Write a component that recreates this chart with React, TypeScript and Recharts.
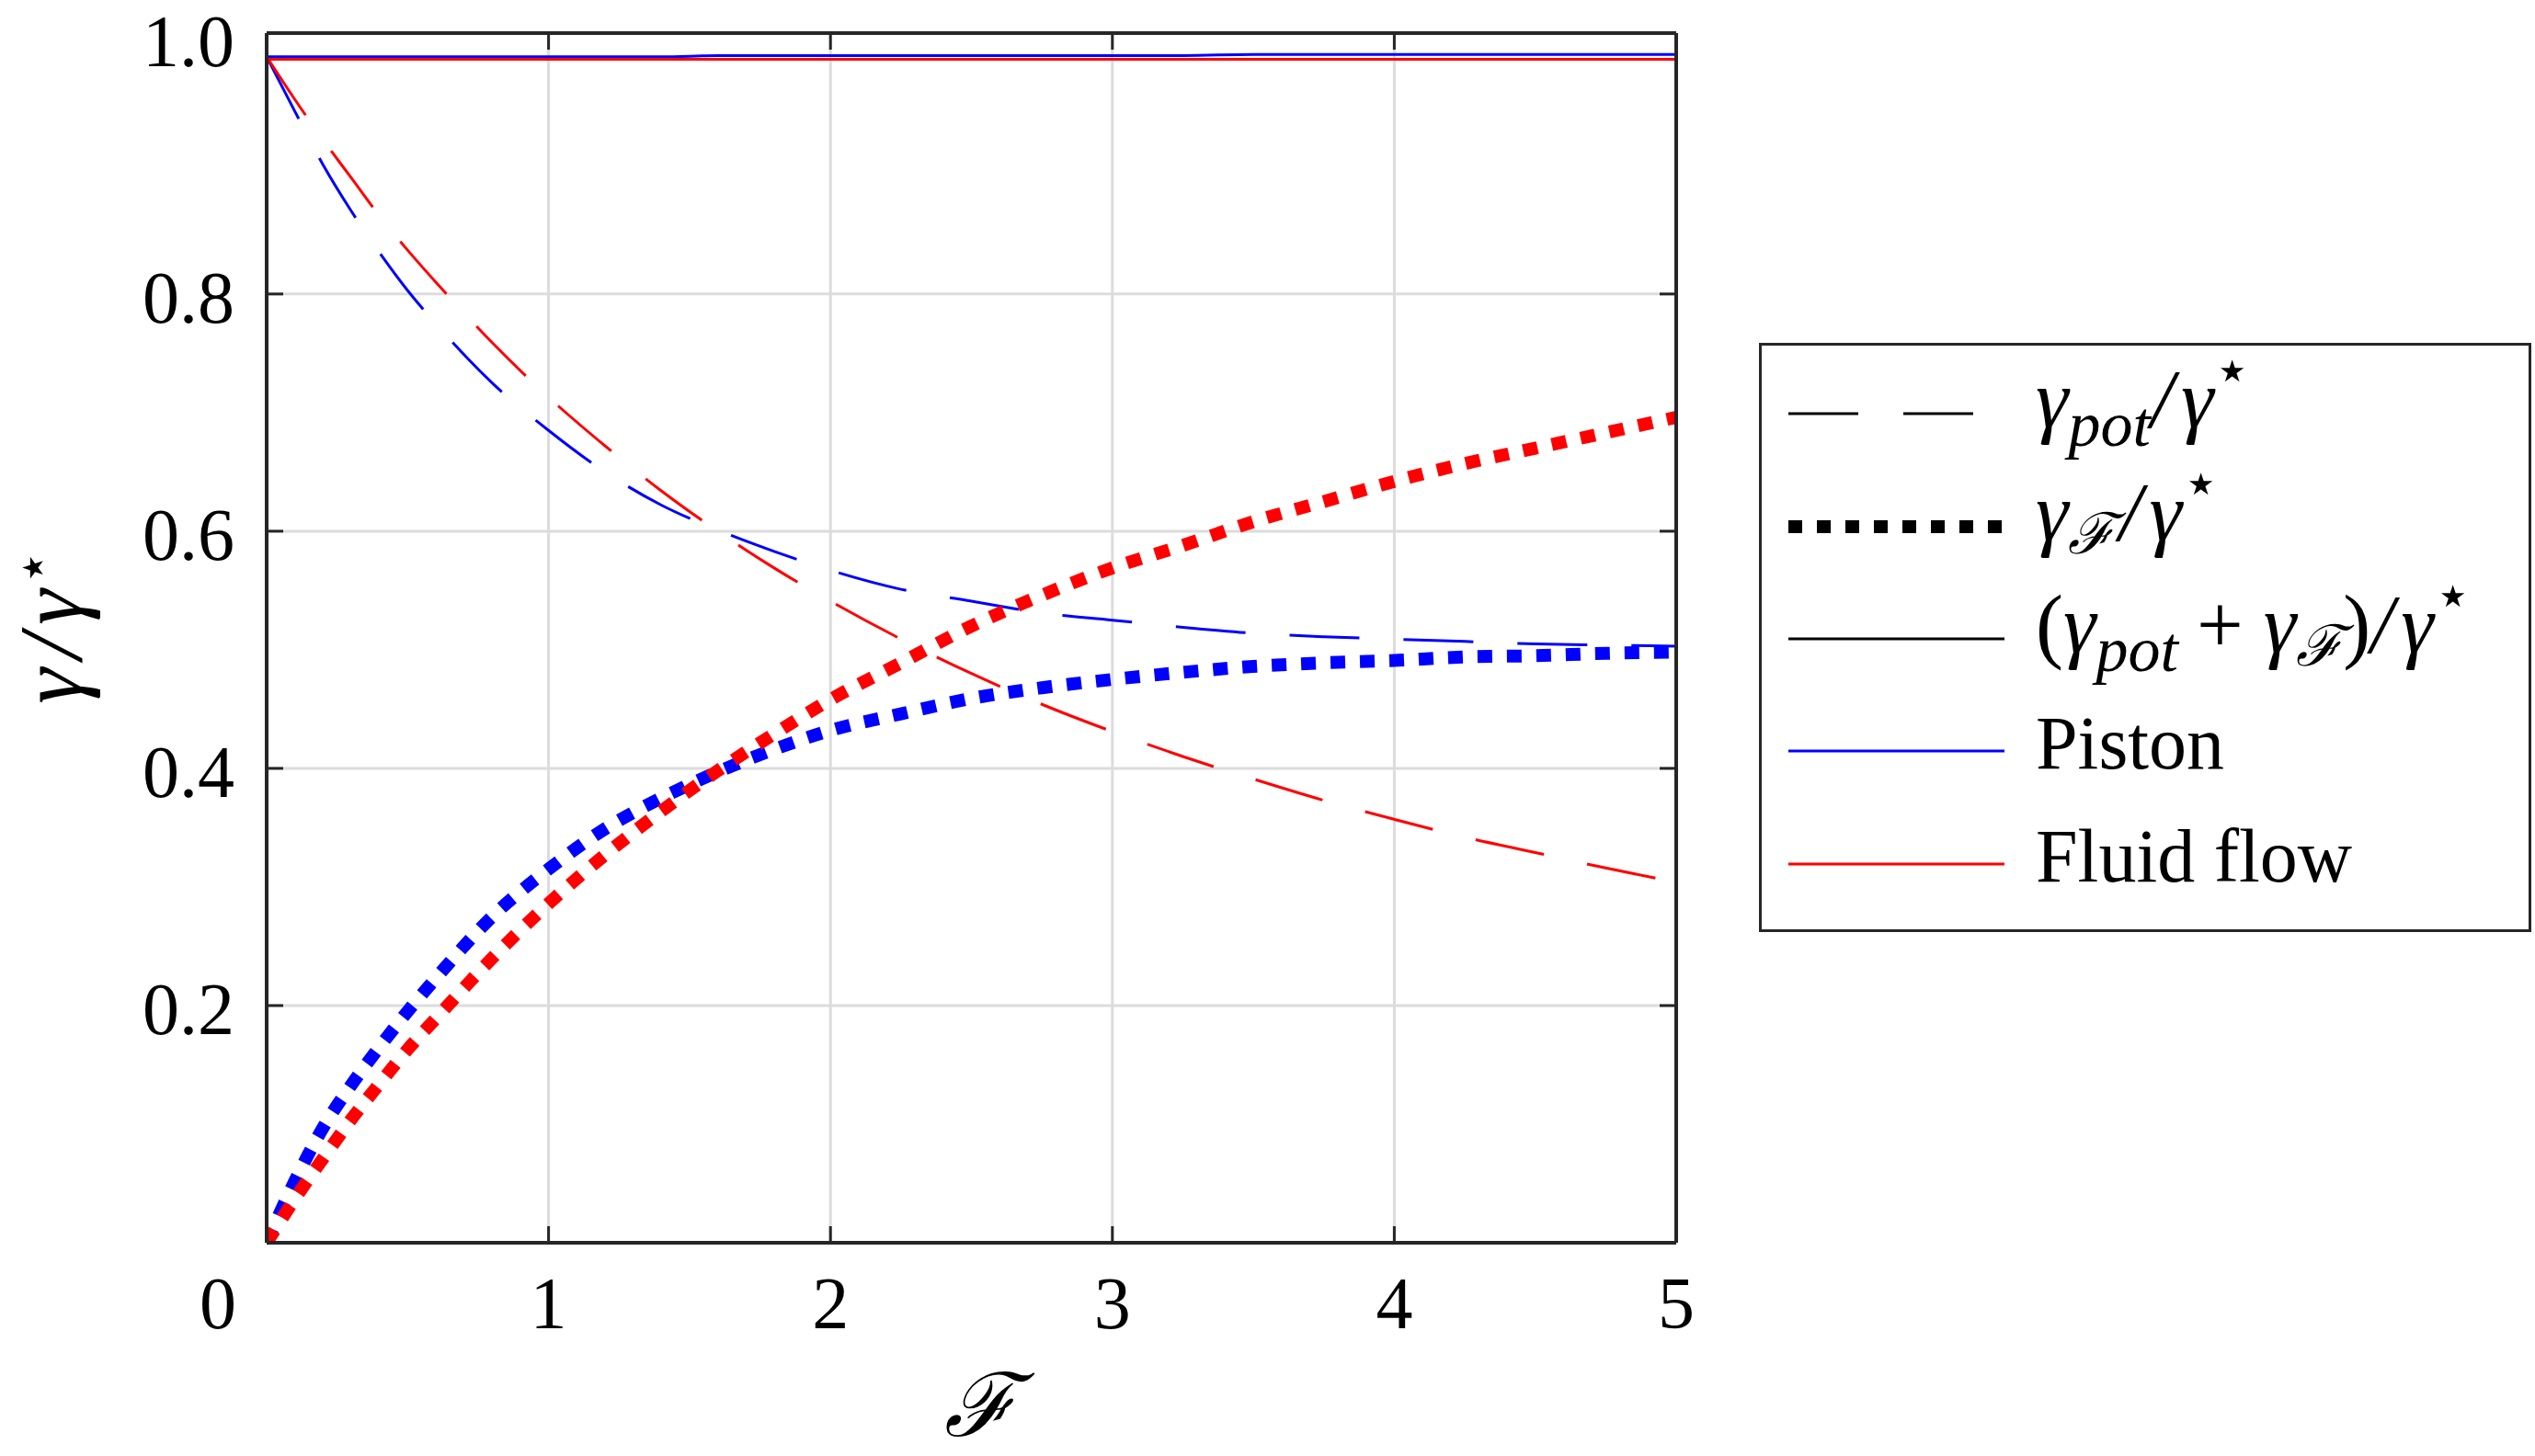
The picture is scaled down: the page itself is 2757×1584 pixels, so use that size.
import { LineChart, Line, XAxis, YAxis, CartesianGrid } from 'recharts';

const SERIF = '"Liberation Serif", "Times New Roman", serif';
const AXIS = '#262626';
const GRID = '#dcdcdc';
const BLUE = '#0000ff';
const RED = '#ff0000';

// forcing parameter F (x axis)
const fValues = [0, 0.1, 0.2, 0.3, 0.4, 0.5, 0.6, 0.8, 1.0, 1.2, 1.4, 1.6, 1.8, 2.0, 2.25, 2.5, 2.75, 3.0, 3.25, 3.5, 3.75, 4.0, 4.25, 4.5, 4.75, 5.0];

// gamma_pot / gamma*
const pistonPot = [1.0, 0.954, 0.909, 0.870, 0.835, 0.803, 0.775, 0.725, 0.685, 0.650, 0.622, 0.601, 0.583, 0.567, 0.551, 0.541, 0.531, 0.525, 0.519, 0.514, 0.511, 0.509, 0.507, 0.505, 0.504, 0.503];
const fluidPot = [1.0, 0.964, 0.930, 0.898, 0.866, 0.837, 0.810, 0.759, 0.713, 0.672, 0.634, 0.600, 0.569, 0.541, 0.509, 0.480, 0.454, 0.431, 0.410, 0.391, 0.373, 0.357, 0.342, 0.329, 0.316, 0.304];

// gamma_F / gamma*
const pistonF = [0, 0.052, 0.097, 0.133, 0.165, 0.195, 0.223, 0.275, 0.315, 0.349, 0.375, 0.397, 0.416, 0.432, 0.446, 0.459, 0.468, 0.475, 0.481, 0.486, 0.489, 0.491, 0.494, 0.495, 0.497, 0.498];
const fluidF = [0, 0.037, 0.071, 0.104, 0.134, 0.163, 0.189, 0.240, 0.286, 0.327, 0.364, 0.398, 0.429, 0.458, 0.489, 0.520, 0.546, 0.569, 0.588, 0.608, 0.625, 0.642, 0.657, 0.670, 0.683, 0.696];

// (gamma_pot + gamma_F) / gamma*
const pistonTotal = [1.0, 1.0, 1.0, 1.0, 1.0, 1.0, 1.0, 1.0, 1.0, 1.0, 1.0, 1.001, 1.001, 1.001, 1.001, 1.001, 1.001, 1.001, 1.001, 1.002, 1.002, 1.002, 1.002, 1.002, 1.002, 1.002];
const fluidTotal = [0.998, 0.998, 0.998, 0.998, 0.998, 0.998, 0.998, 0.998, 0.998, 0.998, 0.998, 0.998, 0.998, 0.998, 0.998, 0.998, 0.998, 0.998, 0.998, 0.998, 0.998, 0.998, 0.998, 0.998, 0.998, 0.998];

const xTicks = [0, 1, 2, 3, 4, 5];
const yTicks = [0.2, 0.4, 0.6, 0.8, 1.02];

const chartData = fValues.map((f, i) => ({
  f,
  pistonPot: pistonPot[i],
  fluidPot: fluidPot[i],
  pistonF: pistonF[i],
  fluidF: fluidF[i],
  pistonTotal: pistonTotal[i],
  fluidTotal: fluidTotal[i],
}));

const DASH = '76 48';
const DOTS = '16 16';

function XTick({ x, y, payload }: any) {
  const shift = payload.value === 0 ? -53 : 0;
  return (
    <text x={x + shift} y={y + 93} textAnchor="middle" fontSize={80} fontFamily={SERIF} fill="#000">
      {payload.value}
    </text>
  );
}

function YTick({ x, y, payload }: any) {
  const top = payload.value > 1;
  const label = top ? '1.0' : Number(payload.value).toFixed(1);
  return (
    <text x={x - 35} y={y + (top ? 36 : 31)} textAnchor="end" fontSize={80} fontFamily={SERIF} fill="#000">
      {label}
    </text>
  );
}

function NoTick() {
  return <g />;
}

const tickLineStyle = { stroke: AXIS, strokeWidth: 3 };
const axisLineStyle = { stroke: AXIS, strokeWidth: 4 };

function Legend() {
  // svg has 40px of padding above the box so the raised stars are not clipped
  const pad = 40;
  const rows = [77, 200, 322, 444, 567].map((r) => r + pad);
  const tx = 301;
  const base = (r: number) => r + 19;
  return (
    <svg
      width={840}
      height={641 + pad}
      style={{ position: 'absolute', left: 1913, top: 373 - pad }}
      fontFamily={SERIF}
    >
      <rect x={1.5} y={pad + 1.5} width={837} height={638} fill="#fff" stroke={AXIS} strokeWidth={3} />
      <line x1={32} x2={234} y1={rows[0]} y2={rows[0]} stroke="#000" strokeWidth={3} strokeDasharray="76 49" />
      <line x1={32} x2={267} y1={rows[1]} y2={rows[1]} stroke="#000" strokeWidth={14} strokeDasharray="15 16" />
      <line x1={32} x2={267} y1={rows[2]} y2={rows[2]} stroke="#000" strokeWidth={3} />
      <line x1={32} x2={267} y1={rows[3]} y2={rows[3]} stroke={BLUE} strokeWidth={3} />
      <line x1={32} x2={267} y1={rows[4]} y2={rows[4]} stroke={RED} strokeWidth={3} />

      <text x={tx} y={base(rows[0]) - 4} fontSize={90} fill="#000">
        <tspan fontStyle="italic">γ</tspan>
        <tspan fontStyle="italic" fontSize={70} dy={20}>pot</tspan>
        <tspan fontStyle="italic" dy={-20}>/</tspan>
        <tspan fontStyle="italic" dx={8}>γ</tspan>
        <tspan fontSize={66} dy={-40}>⋆</tspan>
      </text>
      <text x={tx} y={base(rows[1]) - 4} fontSize={90} fill="#000">
        <tspan fontStyle="italic">γ</tspan>
        <tspan fontStyle="italic" fontSize={62} dy={14}>ℱ</tspan>
        <tspan fontStyle="italic" dy={-14} dx={4}>/</tspan>
        <tspan fontStyle="italic" dx={8}>γ</tspan>
        <tspan fontSize={66} dy={-40}>⋆</tspan>
      </text>
      <text x={tx} y={base(rows[2]) - 4} fontSize={90} fill="#000">
        <tspan>(</tspan>
        <tspan fontStyle="italic">γ</tspan>
        <tspan fontStyle="italic" fontSize={70} dy={20}>pot</tspan>
        <tspan dy={-20} dx={20}>+</tspan>
        <tspan fontStyle="italic" dx={22}>γ</tspan>
        <tspan fontStyle="italic" fontSize={62} dy={14}>ℱ</tspan>
        <tspan dy={-14}>)</tspan>
        <tspan fontStyle="italic">/</tspan>
        <tspan fontStyle="italic" dx={8}>γ</tspan>
        <tspan fontSize={66} dy={-40}>⋆</tspan>
      </text>
      <text x={tx} y={base(rows[3])} fontSize={82} fill="#000">Piston</text>
      <text x={tx} y={base(rows[4])} fontSize={82} fill="#000">Fluid flow</text>
    </svg>
  );
}

function AxisTitles() {
  return (
    <svg
      width={2757}
      height={1584}
      style={{ position: 'absolute', left: 0, top: 0, pointerEvents: 'none' }}
      fontFamily={SERIF}
    >
      <text x={1066} y={1562} textAnchor="middle" fontSize={96} fontStyle="italic" fill="#000">ℱ</text>
      <text transform="translate(88, 682) rotate(-90)" textAnchor="middle" fontSize={98} fill="#000">
        <tspan fontStyle="italic">γ</tspan>
        <tspan fontStyle="italic" dx={10}>/</tspan>
        <tspan fontStyle="italic" dx={10}>γ</tspan>
        <tspan fontSize={62} dy={-32} dx={4}>⋆</tspan>
      </text>
    </svg>
  );
}

export default function App() {
  return (
    <div style={{ position: 'absolute', left: 0, top: 0, width: 2757, height: 1584, background: '#fff' }}>
      <LineChart width={1900} height={1584} data={chartData} margin={{ top: 36, right: 77, bottom: 0, left: 0 }}>
        <XAxis
          xAxisId="b"
          dataKey="f"
          type="number"
          domain={[0, 5]}
          ticks={xTicks}
          allowDataOverflow
          height={232}
          tick={<XTick />}
          tickLine={false}
          tickSize={0}
          tickMargin={0}
          axisLine={axisLineStyle}
        />
        <XAxis
          xAxisId="bm"
          dataKey="f"
          type="number"
          domain={[0, 5]}
          ticks={xTicks}
          allowDataOverflow
          mirror
          height={1}
          tick={<NoTick />}
          tickSize={18}
          tickLine={tickLineStyle}
          axisLine={false}
        />
        <XAxis
          xAxisId="t"
          orientation="top"
          dataKey="f"
          type="number"
          domain={[0, 5]}
          ticks={xTicks}
          allowDataOverflow
          mirror
          height={1}
          tick={<NoTick />}
          tickSize={18}
          tickLine={tickLineStyle}
          axisLine={axisLineStyle}
        />
        <YAxis
          yAxisId="l"
          type="number"
          domain={[0, 1.02]}
          ticks={yTicks}
          allowDataOverflow
          width={290}
          tick={<YTick />}
          tickLine={false}
          tickSize={0}
          tickMargin={0}
          axisLine={axisLineStyle}
        />
        <YAxis
          yAxisId="lm"
          type="number"
          domain={[0, 1.02]}
          ticks={yTicks}
          allowDataOverflow
          mirror
          width={1}
          tick={<NoTick />}
          tickSize={18}
          tickLine={tickLineStyle}
          axisLine={false}
        />
        <YAxis
          yAxisId="r"
          orientation="right"
          type="number"
          domain={[0, 1.02]}
          ticks={yTicks}
          allowDataOverflow
          mirror
          width={1}
          tick={<NoTick />}
          tickSize={18}
          tickLine={tickLineStyle}
          axisLine={axisLineStyle}
        />

        <CartesianGrid xAxisId="b" yAxisId="l" stroke={GRID} strokeWidth={3} />

        {/* piston */}
        <Line xAxisId="b" yAxisId="l" type="monotone" dataKey="pistonPot" stroke={BLUE} strokeWidth={3} strokeDasharray={DASH} dot={false} isAnimationActive={false} />
        <Line xAxisId="b" yAxisId="l" type="monotone" dataKey="pistonF" stroke={BLUE} strokeWidth={14} strokeDasharray={DOTS} dot={false} isAnimationActive={false} />
        <Line xAxisId="b" yAxisId="l" type="monotone" dataKey="pistonTotal" stroke={BLUE} strokeWidth={3} dot={false} isAnimationActive={false} />

        {/* fluid flow */}
        <Line xAxisId="b" yAxisId="l" type="monotone" dataKey="fluidPot" stroke={RED} strokeWidth={3} strokeDasharray={DASH} dot={false} isAnimationActive={false} />
        <Line xAxisId="b" yAxisId="l" type="monotone" dataKey="fluidF" stroke={RED} strokeWidth={14} strokeDasharray={DOTS} dot={false} isAnimationActive={false} />
        <Line xAxisId="b" yAxisId="l" type="monotone" dataKey="fluidTotal" stroke={RED} strokeWidth={3} dot={false} isAnimationActive={false} />
      </LineChart>
      <AxisTitles />
      <Legend />
    </div>
  );
}
